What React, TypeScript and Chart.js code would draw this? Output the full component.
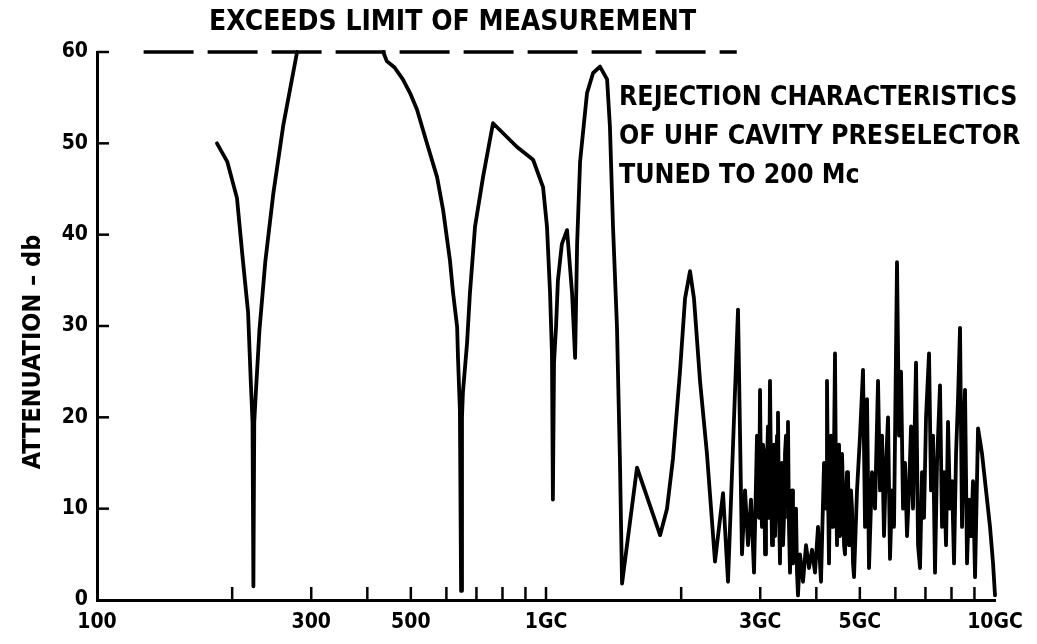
import React, { useEffect, useRef } from "react";
import { Chart, registerables } from "chart.js";

Chart.register(...registerables);

// Frequency in Mc (log axis) and attenuation in dB; null = off-scale gap (exceeds limit)
const freqMc: number[] = [
  185, 195, 205, 211, 217, 220, 222, 223, 224, 226, 230, 237, 247, 260, 279,
  350,
  434, 442, 460, 480, 498, 516, 543, 572, 590, 611, 621, 634, 637, 643, 647, 650, 653, 667, 677, 695, 724, 762,
  862, 936, 985, 1005, 1021, 1031, 1036, 1042, 1053, 1063, 1085, 1114, 1143, 1161, 1173, 1191,
  1234, 1273, 1319, 1368, 1388, 1410, 1439, 1461, 1477, 1595, 1795, 1860, 1918, 1988, 2040, 2093,
  2136, 2203, 2283, 2379, 2479, 2543, 2677,
  2732, 2775, 2818, 2861, 2906, 2951,
  2982, 2997, 3012, 3027, 3043, 3059, 3075, 3090, 3106, 3122,
  3138, 3154, 3170, 3187, 3203, 3220, 3237, 3253, 3270, 3286,
  3303, 3320, 3337, 3355, 3372, 3389, 3406, 3424, 3442, 3459,
  3477, 3495, 3513, 3531, 3549, 3568, 3586, 3604, 3623, 3641,
  3679, 3736, 3794, 3853, 3913, 3973, 4035, 4097,
  4161, 4204, 4225, 4247, 4269, 4291, 4313, 4335, 4357, 4379,
  4402, 4425, 4448, 4471, 4494, 4517, 4540, 4563, 4587, 4611,
  4634, 4658, 4682, 4706, 4730, 4754, 4778, 4803, 4828, 4853,
  4928, 5005, 5082, 5135, 5188, 5241, 5322, 5405, 5489, 5545, 5602, 5660, 5719, 5778, 5837, 5897,
  5958, 6050, 6113, 6176, 6240, 6304, 6369, 6435, 6501, 6568, 6670, 6739, 6808, 6878, 6949, 7021,
  7130, 7203, 7277, 7352, 7428, 7543, 7621, 7700, 7779, 7859, 7940, 8022, 8105, 8189, 8273, 8358,
  8444, 8531, 8575, 8664, 8753, 8843, 8934, 9027, 9167, 9357, 9550, 9748, 9900, 10000,
];

const attenDb: (number | null)[] = [
  50, 48, 44, 37.5, 31.5, 24, 19.5, 1.5, 19.5, 23, 29.5, 37, 44.5, 52, 60,
  null,
  60, 59, 58.3, 57, 55.5, 53.7, 50, 46.3, 42.7, 37.2, 33.6, 29.9, 26.3, 20.8, 1, 20, 22.7, 28.1, 33.6, 40.9, 46.3, 52.2,
  49.6, 48.2, 45.2, 40.9, 33.6, 27, 11, 26, 30, 35, 39, 40.5, 33.6, 26.5, 39, 48,
  55.5, 57.7, 58.4, 57, 51.8, 40.9, 29.9, 15.3, 1.8, 14.5, 7.1, 10, 15.5, 25, 33, 36,
  33, 24, 16, 4.2, 11.7, 2, 31.8,
  5, 12, 6, 11, 3, 18,
  9, 23, 12, 8, 17, 16, 5, 10, 15, 19,
  9, 24, 14, 6, 16, 17, 7, 12, 18, 20.5,
  10, 4, 14, 15, 6, 9, 16, 18, 12, 19.5,
  8, 3, 10, 12, 4, 6, 9, 10, 3, 0.5,
  5, 2, 6, 3.5, 5.5, 3, 8, 2,
  15, 10, 24, 12, 4, 14, 18, 8, 9, 16,
  27, 12, 6, 15, 17, 7, 10, 16, 12, 6,
  5, 11, 14, 14, 6, 7, 12, 10, 4, 2.5,
  12, 18, 25.2, 8, 22, 3.5, 14, 10, 24, 12, 18, 7, 15, 20, 4.5, 12,
  8, 37, 18, 25, 10, 15, 7, 12, 19, 10, 26, 6, 3.5, 14, 9, 20,
  27, 12, 18, 3, 15, 23.5, 8, 14, 6, 19.5, 10, 13, 4, 16, 22, 29.8,
  8, 20, 23, 4, 11, 7, 13, 2.5, 18.8, 16, 12, 8, 4, 0.5,
];

// "Exceeds limit of measurement" dashed line at the 60 db limit
const limitFreq: number[] = [127, 2660];
const limitDb: number[] = [60, 60];

const xTickValues: number[] = [
  100, 200, 300, 400, 500, 600, 700, 800, 900, 1000,
  2000, 3000, 4000, 5000, 6000, 7000, 8000, 9000, 10000,
];
const xLabelValues: number[] = [100, 300, 500, 1000, 3000, 5000, 10000];
const xLabelTexts: string[] = ["100", "300", "500", "1GC", "3GC", "5GC", "10GC"];
const yTickValues: number[] = [0, 10, 20, 30, 40, 50, 60];

const titleText = "EXCEEDS LIMIT OF MEASUREMENT";
const yTitleText = "ATTENUATION \u2013 db";
const noteLines: string[] = [
  "REJECTION CHARACTERISTICS",
  "OF UHF CAVITY PRESELECTOR",
  "TUNED TO 200 Mc",
];

const FAMILY = "'DejaVu Sans Condensed', 'Liberation Sans Narrow', 'DejaVu Sans', sans-serif";

export default function App() {
  const canvasRef = useRef<HTMLCanvasElement | null>(null);

  useEffect(() => {
    const canvas = canvasRef.current;
    if (!canvas) return;

    const textPlugin = {
      id: "textAndTicks",
      afterDraw(chart: any) {
        const { ctx, chartArea } = chart;
        const xs = chart.scales.x;
        const ys = chart.scales.y;
        ctx.save();
        ctx.strokeStyle = "#000";
        ctx.lineWidth = 2.5;
        // inward ticks on x axis
        xTickValues.forEach((v) => {
          if (v === 100 || v === 10000) return;
          const px = xs.getPixelForValue(v);
          ctx.beginPath();
          ctx.moveTo(px, chartArea.bottom);
          ctx.lineTo(px, chartArea.bottom - 13);
          ctx.stroke();
        });
        // inward ticks on y axis
        yTickValues.forEach((v) => {
          if (v === 0) return;
          const py = ys.getPixelForValue(v);
          ctx.beginPath();
          ctx.moveTo(chartArea.left, py);
          ctx.lineTo(chartArea.left + 12, py);
          ctx.stroke();
        });

        ctx.fillStyle = "#000";
        // top title
        ctx.font = `bold 28px ${FAMILY}`;
        ctx.textAlign = "left";
        ctx.textBaseline = "middle";
        ctx.fillText(titleText, 209, 23);

        // annotation block
        ctx.font = `bold 26.5px ${FAMILY}`;
        noteLines.forEach((t, i) => {
          ctx.fillText(t, 619, 98 + i * 39);
        });

        // y axis title
        ctx.save();
        ctx.translate(33, 352);
        ctx.rotate(-Math.PI / 2);
        ctx.textAlign = "center";
        ctx.font = `bold 25px ${FAMILY}`;
        ctx.fillText(yTitleText, 0, 0);
        ctx.restore();
        ctx.restore();
      },
    };

    const curve = freqMc.map((f, i) => ({ x: f, y: attenDb[i] }));
    const limit = limitFreq.map((f, i) => ({ x: f, y: limitDb[i] }));

    const tickFont = { family: FAMILY, size: 21, weight: "bold" as const };

    const chart = new Chart(canvas, {
      type: "line",
      data: {
        datasets: [
          {
            data: curve as any,
            borderColor: "#000",
            borderWidth: 3.8,
            pointRadius: 0,
            spanGaps: false,
            tension: 0,
            borderJoinStyle: "round",
            borderCapStyle: "round",
            clip: 8,
          },
          {
            data: limit as any,
            borderColor: "#000",
            borderWidth: 3.5,
            borderDash: [50, 14],
            pointRadius: 0,
            clip: 8,
          },
        ],
      },
      options: {
        responsive: false,
        animation: false,
        devicePixelRatio: 1,
        layout: { padding: { top: 52, right: 42, left: 0, bottom: 0 } },
        plugins: {
          legend: { display: false },
          tooltip: { enabled: false },
          title: { display: false },
        },
        scales: {
          x: {
            type: "logarithmic",
            min: 100,
            max: 10000,
            grid: { display: false, drawTicks: false },
            border: { display: true, color: "#000", width: 3 },
            afterBuildTicks: (s: any) => {
              s.ticks = xTickValues.map((v) => ({ value: v }));
            },
            afterFit: (s: any) => {
              s.height = 44;
            },
            ticks: {
              autoSkip: false,
              maxRotation: 0,
              minRotation: 0,
              padding: 10,
              color: "#000",
              font: tickFont,
              callback: (v: any) => {
                const idx = xLabelValues.indexOf(Number(v));
                return idx >= 0 ? xLabelTexts[idx] : "";
              },
            },
          },
          y: {
            type: "linear",
            min: 0,
            max: 60,
            grid: { display: false, drawTicks: false },
            border: { display: true, color: "#000", width: 3 },
            afterBuildTicks: (s: any) => {
              s.ticks = yTickValues.map((v) => ({ value: v }));
            },
            afterFit: (s: any) => {
              s.width = 97;
            },
            ticks: {
              padding: 9,
              color: "#000",
              font: tickFont,
              callback: (v: any) => String(v),
            },
          },
        },
      },
      plugins: [textPlugin],
    });

    return () => chart.destroy();
  }, []);

  return (
    <div
      style={{
        position: "absolute",
        left: 0,
        top: 0,
        width: 1037,
        height: 644,
        background: "#fff",
      }}
    >
      <canvas ref={canvasRef} width={1037} height={644} />
    </div>
  );
}
